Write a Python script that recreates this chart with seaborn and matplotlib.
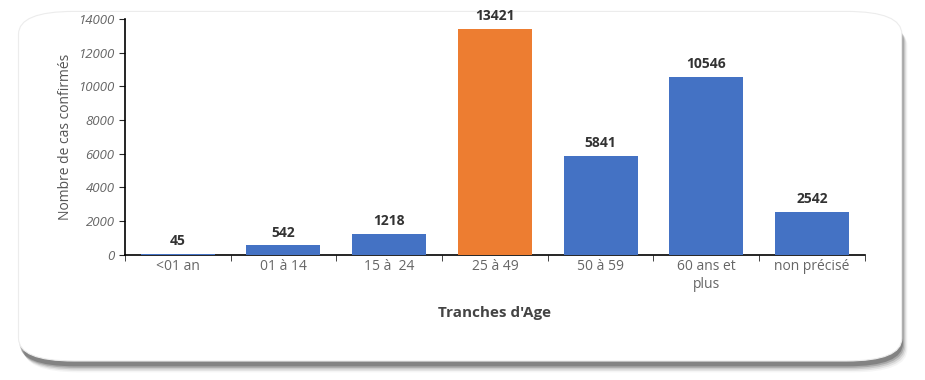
import numpy as np
import pandas as pd
import matplotlib.pyplot as plt
import seaborn as sns
from matplotlib.patches import FancyBboxPatch

sns.set_style("white")
plt.rcParams['font.family'] = ['Open Sans', 'DejaVu Sans']

# data
age_groups = ['<01 an', '01 à 14', '15 à  24', '25 à 49', '50 à 59', '60 ans et\nplus', 'non précisé']
cases = [45, 542, 1218, 13421, 5841, 10546, 2542]
bar_colors = ['#4472C4', '#4472C4', '#4472C4', '#ED7D31', '#4472C4', '#4472C4', '#4472C4']

df = pd.DataFrame({'age': age_groups, 'cases': cases})

fig = plt.figure(figsize=(9.25, 3.8), dpi=100)
fig.patch.set_facecolor('white')

# card with shadow
for i, a in enumerate([0.04, 0.07, 0.11, 0.16, 0.22]):
    off = 0.02 - i * 0.004
    fig.patches.append(FancyBboxPatch((0.02 + off * 0.3, 0.04 - off), 0.955, 0.92,
                                      boxstyle="round,pad=0.0,rounding_size=0.06",
                                      transform=fig.transFigure, facecolor='black',
                                      edgecolor='none', alpha=a, zorder=-2))
fig.patches.append(FancyBboxPatch((0.02, 0.05), 0.955, 0.92,
                                  boxstyle="round,pad=0.0,rounding_size=0.06",
                                  transform=fig.transFigure, facecolor='white',
                                  edgecolor='#ececec', linewidth=0.8, zorder=-1))

ax = fig.add_axes([0.135, 0.33, 0.80, 0.62])
ax.set_zorder(5)
ax.set_facecolor('none')
sns.barplot(data=df, x='age', y='cases', hue='age', palette=bar_colors,
            legend=False, width=0.7, saturation=1, linewidth=0, ax=ax, zorder=3)

for i, v in enumerate(cases):
    ax.text(i, v + 350, str(v), ha='center', va='bottom', fontsize=10,
            fontweight='bold', color='#333333')

ax.set_ylim(0, 14000)
ax.set_yticks(range(0, 14001, 2000))
ax.tick_params(axis='y', labelsize=9.5, labelcolor='#666666', length=4, direction='out', left=True)
ax.tick_params(axis='x', labelsize=10, labelcolor='#666666', length=4, bottom=True)
ax.set_xticks(np.arange(-0.5, len(cases), 1.0), minor=True)
ax.tick_params(axis='x', which='major', length=0)
ax.tick_params(axis='x', which='minor', length=4, bottom=True)
for lbl in ax.get_yticklabels():
    lbl.set_fontstyle('italic')

sns.despine(ax=ax, top=True, right=True)
ax.spines['left'].set_color('black')
ax.spines['bottom'].set_color('black')
ax.spines['left'].set_linewidth(1.2)
ax.spines['bottom'].set_linewidth(1.2)

ax.set_ylabel('Nombre de cas confirmés', fontsize=10, color='#555555')
ax.set_xlabel("Tranches d'Age", fontsize=11, fontweight='bold', color='#444444', labelpad=10)

plt.savefig('out.png', dpi=100, facecolor='white')
